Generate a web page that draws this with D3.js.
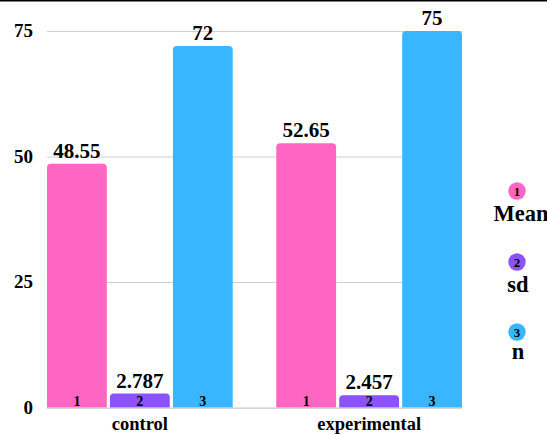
<!DOCTYPE html>
<html><head><meta charset="utf-8">
<script src="https://cdn.jsdelivr.net/npm/d3@7"></script>
<style>body{margin:0;background:#fff}svg{display:block}</style>
</head><body>
<svg id="c" width="547" height="435"></svg>
<script>
const categories = ["control", "experimental"];
const seriesNames = ["Mean", "sd", "n"];
const seriesIndex = ["1", "2", "3"];
const meanValues = [48.55, 52.65];
const sdValues = [2.787, 2.457];
const nValues = [72, 75];
const valueLabels = [["48.55", "2.787", "72"], ["52.65", "2.457", "75"]];
const yTicks = [0, 25, 50, 75];
const colors = ["#ff66c4", "#8c52ff", "#38b6ff"];

const series = [meanValues, sdValues, nValues];
const data = categories.map((c, i) => ({cat: c, vals: series.map((s, j) => ({key: seriesNames[j], idx: seriesIndex[j], v: s[i], label: valueLabels[i][j], color: colors[j]}))}));

const FONT = '"Liberation Serif"';
function styleText(sel, size) {
  return sel.attr("font-family", FONT).attr("font-weight", "bold").attr("font-size", size).attr("fill", "#000");
}

const svg = d3.select("#c");
const L = 47, R = 462;
const x0 = d3.scaleBand().domain(categories).range([L, R]).paddingInner(0.19).paddingOuter(0);
const x1 = d3.scaleBand().domain(seriesNames).range([0, x0.bandwidth()]).paddingInner(0.05);
const y = d3.scaleLinear().domain([0, 75]).range([407.5, 31]);

svg.append("line").attr("x1", 0).attr("x2", 547).attr("y1", 0.75).attr("y2", 0.75).attr("stroke", "#000").attr("stroke-width", 1.5);

// grid
const yAxis = d3.axisLeft(y).tickValues(yTicks).tickSize(-(R - L)).tickFormat(d3.format("d"));
const ga = svg.append("g").attr("transform", `translate(${L},0)`).call(yAxis);
ga.select(".domain").remove();
ga.attr("font-family", FONT);
ga.selectAll(".tick line").attr("stroke", "#d0d0d0").attr("stroke-width", 1);
styleText(ga.selectAll(".tick text"), 19).attr("x", -14).attr("dy", "0.3em");

function topRounded(x, yTop, w, h, r) {
  r = Math.min(r, h, w / 2);
  return `M${x},${yTop + h}V${yTop + r}Q${x},${yTop} ${x + r},${yTop}H${x + w - r}Q${x + w},${yTop} ${x + w},${yTop + r}V${yTop + h}Z`;
}

const groups = svg.selectAll(".grp").data(data).join("g").attr("transform", d => `translate(${x0(d.cat)},0)`);
groups.selectAll("path").data(d => d.vals).join("path")
  .attr("d", d => topRounded(x1(d.key), y(d.v), x1.bandwidth(), y(0) - y(d.v), 4))
  .attr("fill", d => d.color);
styleText(groups.selectAll(".val").data(d => d.vals).join("text"), 21)
  .attr("x", d => x1(d.key) + x1.bandwidth() / 2).attr("y", d => y(d.v) - 6)
  .attr("text-anchor", "middle")
  .text(d => d.label);
styleText(groups.selectAll(".idx").data(d => d.vals).join("text"), 14)
  .attr("x", d => x1(d.key) + x1.bandwidth() / 2).attr("y", y(0) - 1.5)
  .attr("text-anchor", "middle")
  .text(d => d.idx);

svg.append("line").attr("x1", L).attr("x2", R).attr("y1", y(0) + 0.8).attr("y2", y(0) + 0.8).attr("stroke", "#d0d0d0");

styleText(svg.selectAll(".cat").data(categories).join("text"), 18.5)
  .attr("x", d => x0(d) + x0.bandwidth() / 2).attr("y", 429.5)
  .attr("text-anchor", "middle")
  .text(d => d);

// legend
const legY = [191, 262, 332];
const lg = svg.selectAll(".leg").data(seriesNames).join("g").attr("transform", (d, i) => `translate(517,${legY[i]})`);
lg.append("circle").attr("r", 8.7).attr("fill", (d, i) => colors[i]);
styleText(lg.append("text"), 13).attr("y", 4.5).attr("text-anchor", "middle").text((d, i) => seriesIndex[i]);
styleText(lg.append("text"), 22.5).attr("x", (d, i) => i === 0 ? 4 : 1).attr("y", (d, i) => i === 2 ? 26.5 : 30).attr("text-anchor", "middle").text(d => d);
</script>
</body></html>
